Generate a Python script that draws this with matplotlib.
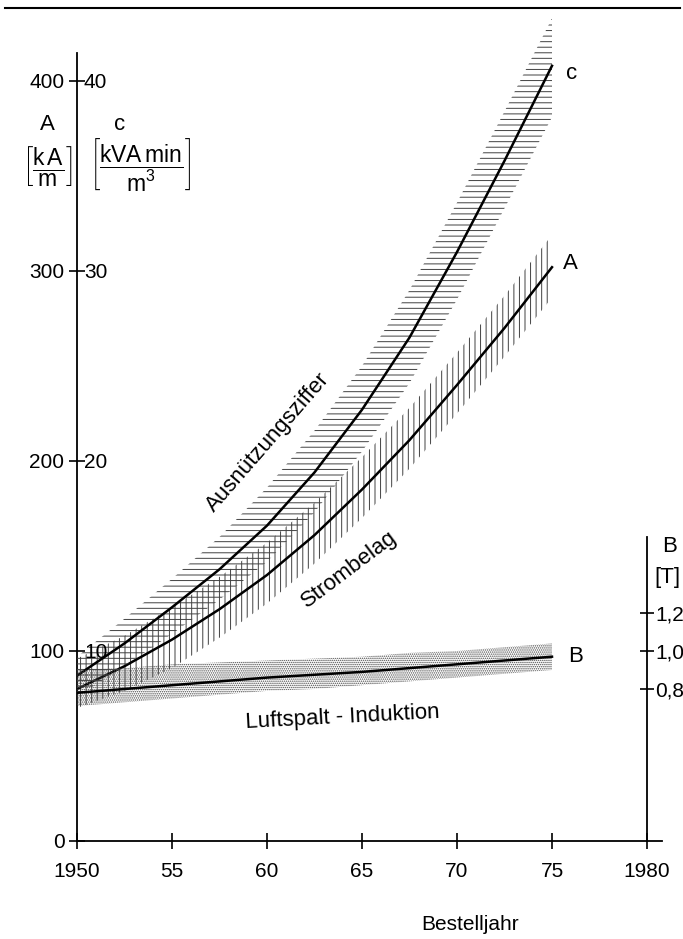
import matplotlib
matplotlib.use("Agg")
import matplotlib.pyplot as plt
from matplotlib.lines import Line2D

plt.rcParams["font.family"] = ["Liberation Sans", "DejaVu Sans"]
plt.rcParams["mathtext.fontset"] = "custom"
plt.rcParams["mathtext.rm"] = "Liberation Sans"
plt.rcParams["mathtext.it"] = "Liberation Sans"
plt.rcParams["hatch.linewidth"] = 0.7

# Data (Bestelljahr 1950-1975)
years = [1950, 1952.5, 1955, 1957.5, 1960, 1962.5, 1965, 1967.5, 1970, 1972.5, 1975]

# Ausnuetzungsziffer c [kVA min / m3]
c_mid = [8.7, 10.4, 12.3, 14.3, 16.6, 19.4, 22.7, 26.5, 31.0, 35.8, 40.8]
c_up = [9.7, 11.7, 13.8, 16.0, 18.6, 21.6, 25.0, 29.0, 33.6, 38.4, 43.3]
c_lo = [7.6, 9.2, 10.9, 12.7, 14.7, 17.3, 20.5, 24.1, 28.5, 33.3, 38.1]

# Strombelag A [kA/m]
a_mid = [80, 92, 106, 122, 140, 161, 185, 211, 240, 270, 302]
a_up = [96, 108, 123, 139, 157, 178, 202, 228, 257, 287, 319]
a_lo = [70, 79, 91, 107, 125, 146, 170, 196, 225, 255, 286]

# Luftspalt-Induktion B [T]
b_mid = [0.78, 0.80, 0.82, 0.84, 0.86, 0.875, 0.89, 0.91, 0.93, 0.95, 0.97]
b_up = [0.90, 0.91, 0.93, 0.94, 0.95, 0.96, 0.97, 0.99, 1.00, 1.02, 1.04]
b_lo = [0.71, 0.73, 0.75, 0.77, 0.79, 0.80, 0.82, 0.84, 0.86, 0.88, 0.90]

x_ticks = [1950, 1955, 1960, 1965, 1970, 1975, 1980]
x_labels = ["1950", "55", "60", "65", "70", "75", "1980"]
a_ticks = [0, 100, 200, 300, 400]
c_ticks = [10, 20, 30, 40]
b_ticks = [0.8, 1.0, 1.2]
b_labels = ["0,8", "1,0", "1,2"]

fs = 15
fs_lab = 16
W, H = 683, 939
fig = plt.figure(figsize=(W / 100, H / 100), dpi=100)
ax = fig.add_axes([77 / W, 98 / H, 589 / W, 836 / H])
ax.set_xlim(1950, 1981)
ax.set_ylim(0, 440)

# twin axes for c (left, labels inside) and B (right at 1980)
axc = ax.twinx()
axc.set_ylim(0, 44)
axb = ax.twinx()
axb.set_ylim(0, 4.4)

for a in (ax, axc, axb):
    a.patch.set_visible(False)
    for s in a.spines.values():
        s.set_visible(False)

# bands
ax.fill_between(years, a_lo, a_up, facecolor="none", edgecolor="0.25",
                linewidth=0, hatch="|||")
axc.fill_between(years, c_lo, c_up, facecolor="none", edgecolor="0.25",
                 linewidth=0, hatch="---")
axb.fill_between(years, b_lo, b_up, facecolor="none", edgecolor="0.3",
                 linewidth=0, hatch="........")

# curves
for a, vals in ((ax, a_mid), (axc, c_mid), (axb, b_mid)):
    a.plot(years, vals, color="black", lw=1.8, solid_joinstyle="round")

# spines
ax.spines["left"].set_visible(True)
ax.spines["left"].set_bounds(0, 415)
ax.spines["bottom"].set_visible(True)
ax.spines["bottom"].set_bounds(1950, 1980.8)
axb.spines["right"].set_visible(True)
axb.spines["right"].set_position(("data", 1980))
axb.spines["right"].set_bounds(0, 1.6)
axc.spines["right"].set_position(("axes", 0))
for s in (ax.spines["left"], ax.spines["bottom"], axb.spines["right"]):
    s.set_linewidth(1.3)

ax.set_xticks(x_ticks)
ax.set_xticklabels(x_labels, fontsize=fs)
ax.set_yticks(a_ticks)
ax.set_yticklabels([str(t) for t in a_ticks], fontsize=fs)
ax.tick_params(direction="inout", length=12, width=1.2, pad=3)
ax.tick_params(axis="x", pad=9)

axc.set_yticks(c_ticks)
axc.set_yticklabels([str(t) for t in c_ticks], fontsize=fs)
axc.tick_params(axis="y", length=0, pad=5)

axb.set_yticks(b_ticks)
axb.set_yticklabels(b_labels, fontsize=fs)
axb.tick_params(axis="y", direction="inout", length=10, width=1.2, pad=1)

# curve labels
axc.annotate("c", (years[-1], c_mid[-1]), xytext=(14, -8),
             textcoords="offset pixels", ha="left", va="center", fontsize=fs_lab)
ax.annotate("A", (years[-1], a_mid[-1]), xytext=(11, 4),
            textcoords="offset pixels", ha="left", va="center", fontsize=fs_lab)
axb.annotate("B", (years[-1], b_mid[-1]), xytext=(16, 0),
             textcoords="offset pixels", ha="left", va="center", fontsize=fs_lab)

ax.text(1960.05, 210, "Ausnützungsziffer", rotation=49, rotation_mode="anchor",
        ha="center", va="center", fontsize=fs_lab)
ax.text(1964.3, 143, "Strombelag", rotation=37, rotation_mode="anchor",
        ha="center", va="center", fontsize=fs_lab)
ax.text(1964.0, 65, "Luftspalt - Induktion", rotation=3, rotation_mode="anchor",
        ha="center", va="center", fontsize=fs_lab)

# axis unit labels
fig.text(47 / W, 1 - 125 / H, "A", ha="center", va="center", fontsize=fs_lab)
fig.text(47 / W, 1 - 166 / H, r"$\left[\dfrac{\mathrm{k\,A}}{\mathrm{m}}\right]$",
         ha="center", va="center", fontsize=16.5)
fig.text(120 / W, 1 - 125 / H, "c", ha="center", va="center", fontsize=fs_lab)
fig.text(140 / W, 1 - 166 / H, r"$\left[\dfrac{\mathrm{kVA\,min}}{\mathrm{m^3}}\right]$",
         ha="center", va="center", fontsize=16.5)
fig.text(670 / W, 1 - 546 / H, "B", ha="center", va="center", fontsize=fs_lab)
fig.text(667 / W, 1 - 577 / H, "[T]", ha="center", va="center", fontsize=fs_lab)
fig.text(470 / W, 1 - 924 / H, "Bestelljahr", ha="center", va="center", fontsize=fs)

# page rule at the top
fig.add_artist(Line2D([5 / W, 680 / W], [1 - 8 / H, 1 - 8 / H],
                      transform=fig.transFigure, color="black", lw=1.5))

fig.savefig("out.png", dpi=100)
